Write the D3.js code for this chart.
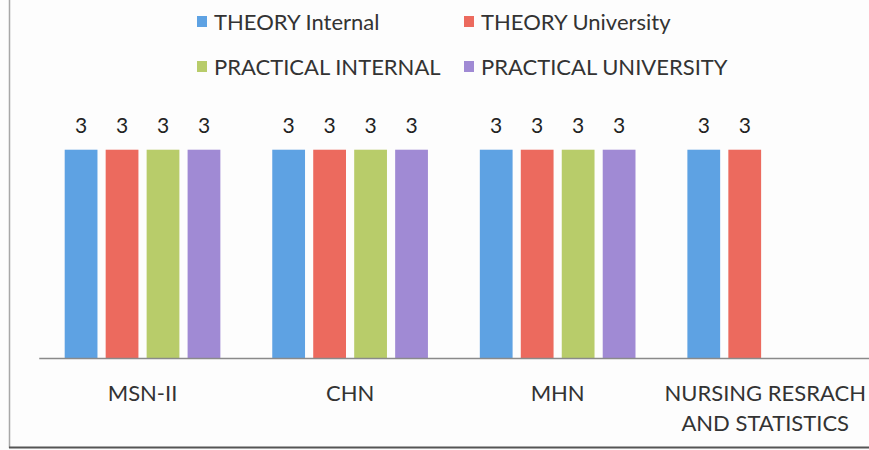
<!DOCTYPE html>
<html>
<head>
<meta charset="utf-8">
<script src="https://cdn.jsdelivr.net/npm/d3@7"></script>
<style>
  body { margin: 0; background: #fdfdfd; }
  svg { display: block; font-family: Lato, "Open Sans", sans-serif; }
</style>
</head>
<body>
<svg width="869" height="450"></svg>
<script>
var categories = ["MSN-II", "CHN", "MHN", "NURSING RESRACH\nAND STATISTICS"];
var seriesNames = ["THEORY Internal", "THEORY University", "PRACTICAL INTERNAL", "PRACTICAL UNIVERSITY"];
var theoryInternal = [3, 3, 3, 3];
var theoryUniversity = [3, 3, 3, 3];
var practicalInternal = [3, 3, 3, null];
var practicalUniversity = [3, 3, 3, null];
var colors = ["#5ea2e3", "#ec6a5e", "#b8cc6a", "#a08ad4"];

var series = [theoryInternal, theoryUniversity, practicalInternal, practicalUniversity];

var svg = d3.select("svg"),
    margin = {top: 115, right: 0, bottom: 92, left: 38.75},
    width = +svg.attr("width") - margin.left - margin.right,
    height = +svg.attr("height") - margin.top - margin.bottom;

// page frame lines from the scan
svg.append("line").attr("x1", 9.5).attr("x2", 9.5).attr("y1", 0).attr("y2", 448)
    .attr("stroke", "#a8a8a8").attr("stroke-width", 1.5);
svg.append("line").attr("x1", 9).attr("x2", 869).attr("y1", 447.5).attr("y2", 447.5)
    .attr("stroke", "#555").attr("stroke-width", 2);

var g = svg.append("g").attr("transform", "translate(" + margin.left + "," + margin.top + ")");

var x0 = d3.scaleBand()
    .domain(categories)
    .range([0, width])
    .paddingInner(0.25)
    .paddingOuter(0.125);

var x1 = d3.scaleBand()
    .domain(d3.range(seriesNames.length))
    .range([0, x0.bandwidth()])
    .paddingInner(0.2);

var y = d3.scaleLinear()
    .domain([0, 3.5])
    .range([height, 0]);

var rows = [];
categories.forEach(function (c, i) {
    series.forEach(function (s, k) {
        if (s[i] != null) rows.push({cat: c, k: k, value: s[i]});
    });
});

g.selectAll("rect.bar")
    .data(rows)
    .enter().append("rect")
    .attr("class", "bar")
    .attr("x", function (d) { return x0(d.cat) + x1(d.k); })
    .attr("y", function (d) { return y(d.value); })
    .attr("width", x1.bandwidth())
    .attr("height", function (d) { return height - y(d.value); })
    .attr("fill", function (d) { return colors[d.k]; });

g.selectAll("text.val")
    .data(rows)
    .enter().append("text")
    .attr("class", "val")
    .attr("x", function (d) { return x0(d.cat) + x1(d.k) + x1.bandwidth() / 2; })
    .attr("y", function (d) { return y(d.value) - 17; })
    .attr("text-anchor", "middle")
    .attr("font-size", 21)
    .attr("fill", "#222")
    .text(function (d) { return d.value; });

// baseline
var xAxis = g.append("g")
    .attr("transform", "translate(0," + height + ")")
    .call(d3.axisBottom(x0).tickSize(0).tickFormat(""));
xAxis.select(".domain").attr("stroke", "#8a8a8a").attr("stroke-width", 1.5);

var labels = g.append("g").selectAll("text")
    .data(categories)
    .enter().append("text")
    .attr("x", function (d) { return x0(d) + x0.step() / 2 - x0.step() * x0.paddingInner() / 2; })
    .attr("y", height + 43)
    .attr("text-anchor", "middle")
    .attr("font-size", 22)
    .attr("fill", "#333");
labels.selectAll("tspan")
    .data(function (d) { return d.split("\n"); })
    .enter().append("tspan")
    .attr("x", function () { var p = this.parentNode; return p.getAttribute("x"); })
    .attr("dy", function (d, i) { return i ? 30 : 0; })
    .text(function (d) { return d; });

// legend, two rows of two
var legendX = [197, 464], legendY = [22, 67];
var legend = svg.append("g")
    .selectAll("g")
    .data(seriesNames)
    .enter().append("g")
    .attr("transform", function (d, i) {
        return "translate(" + legendX[i % 2] + "," + legendY[Math.floor(i / 2)] + ")";
    });
legend.append("rect")
    .attr("y", -6)
    .attr("width", 10)
    .attr("height", 11)
    .attr("fill", function (d, i) { return colors[i]; });
legend.append("text")
    .attr("x", 17)
    .attr("dy", "0.36em")
    .attr("font-size", 22)
    .attr("fill", "#333")
    .text(function (d) { return d; });
</script>
</body>
</html>
